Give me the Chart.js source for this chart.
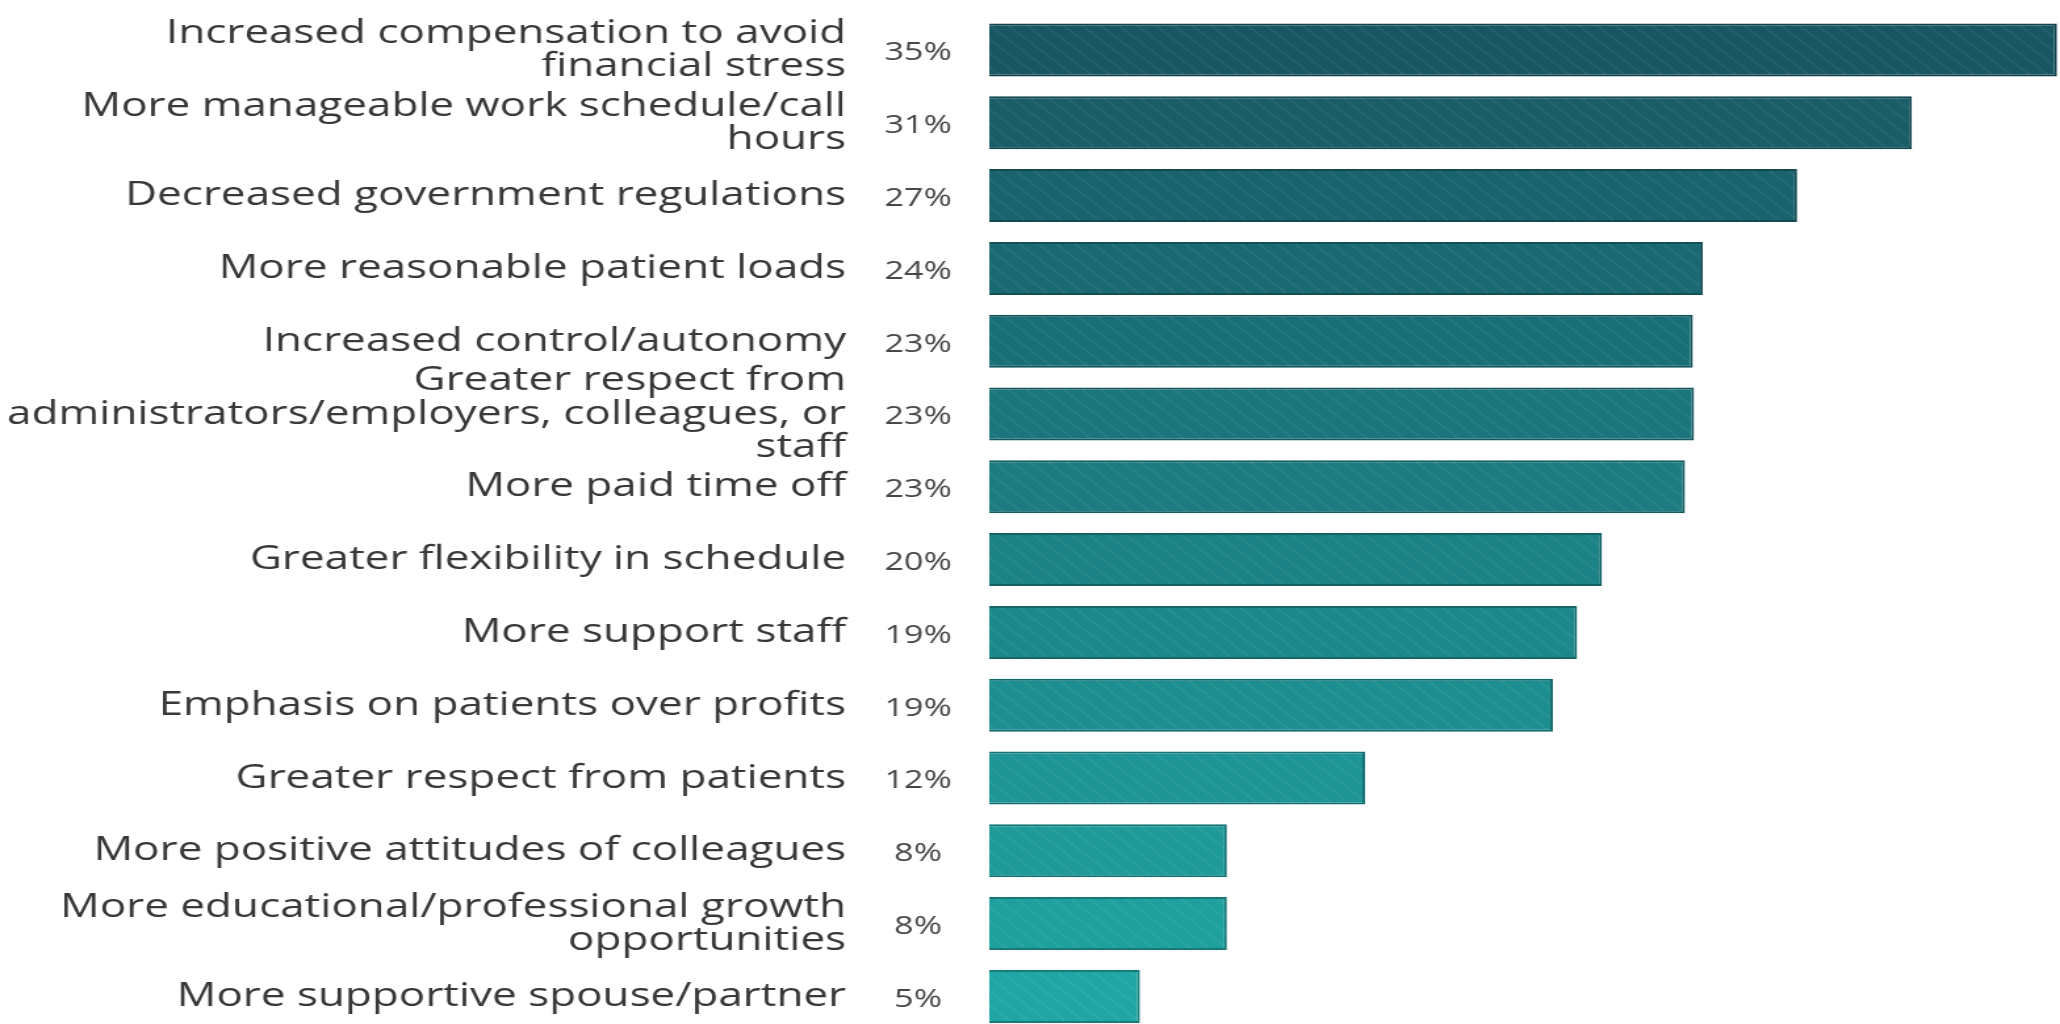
<!DOCTYPE html>
<html>
<head>
<meta charset="utf-8">
<title>Changes that would reduce burnout</title>
<script src="https://cdn.jsdelivr.net/npm/chart.js@4/dist/chart.umd.min.js"></script>
<style>
  html, body { margin: 0; padding: 0; background: #fff; overflow: hidden; }
  /* the source picture is stretched sideways, so the canvas is too */
  #wrap { width: 1568px; height: 1040px; transform: scaleX(1.3138); transform-origin: 0 0; }
</style>
</head>
<body>
<div id="wrap"><canvas id="chart" width="1568" height="1040"></canvas></div>
<script>
// --- data ---
const categories = [
  ['Increased compensation to avoid', 'financial stress'],
  ['More manageable work schedule/call', 'hours'],
  'Decreased government regulations',
  'More reasonable patient loads',
  'Increased control/autonomy',
  ['Greater respect from', 'administrators/employers, colleagues, or', 'staff'],
  'More paid time off',
  'Greater flexibility in schedule',
  'More support staff',
  'Emphasis on patients over profits',
  'Greater respect from patients',
  'More positive attitudes of colleagues',
  ['More educational/professional growth', 'opportunities'],
  'More supportive spouse/partner'
];
// bar lengths (percent), as measured
const values = [35.25, 30.46, 26.67, 23.56, 23.23, 23.27, 22.97, 20.23, 19.41, 18.61, 12.41, 7.85, 7.85, 4.98];
// printed labels
const valueLabels = ['35%', '31%', '27%', '24%', '23%', '23%', '23%', '20%', '19%', '19%', '12%', '8%', '8%', '5%'];

// --- styles ---
const darkTeal = [23, 87, 99];
const lightTeal = [31, 166, 164];

function mix(t, k) {
  return darkTeal.map((c, j) => Math.round((c + (lightTeal[j] - c) * t) * k));
}

// faint diagonal hatch like the original bars
function barPattern(rgb) {
  const c = document.createElement('canvas');
  c.width = 14; c.height = 14;
  const g = c.getContext('2d');
  g.fillStyle = `rgb(${rgb.join(',')})`;
  g.fillRect(0, 0, 14, 14);
  g.strokeStyle = 'rgba(255,255,255,0.06)';
  g.lineWidth = 2;
  g.beginPath();
  g.moveTo(-2, -2); g.lineTo(16, 16);
  g.moveTo(-9, 5); g.lineTo(9, 23);
  g.moveTo(5, -9); g.lineTo(23, 9);
  g.stroke();
  return g.createPattern(c, 'repeat');
}

const fills = values.map((v, i) => barPattern(mix(i / (values.length - 1), 1)));
const borders = values.map((v, i) => `rgb(${mix(i / (values.length - 1), 0.75).join(',')})`);

// percent labels sit in a column between the names and the bars
const pctLabels = {
  id: 'pctLabels',
  afterDatasetsDraw(chart) {
    const ctx = chart.ctx;
    const meta = chart.getDatasetMeta(0);
    ctx.save();
    ctx.font = '26px "Open Sans"';
    ctx.fillStyle = '#474747';
    ctx.textAlign = 'center';
    ctx.textBaseline = 'middle';
    meta.data.forEach((bar, i) => {
      ctx.fillText(valueLabels[i], chart.chartArea.left - 54, bar.y + 3);
    });
    ctx.restore();
  }
};

new Chart(document.getElementById('chart'), {
  type: 'bar',
  data: {
    labels: categories,
    datasets: [{
      data: values,
      backgroundColor: fills,
      borderColor: borders,
      borderWidth: 2,
      borderSkipped: 'start',
      categoryPercentage: 1,
      barPercentage: 0.728
    }]
  },
  options: {
    indexAxis: 'y',
    responsive: false,
    animation: false,
    layout: { padding: { top: 13.6, bottom: 7.2, left: 0, right: 0 } },
    plugins: { legend: { display: false }, tooltip: { enabled: false } },
    scales: {
      x: {
        display: false,
        min: 0,
        max: 35.35
      },
      y: {
        grid: { display: false, drawTicks: false },
        border: { display: false },
        ticks: {
          autoSkip: false,
          padding: 108.8,
          color: '#383838',
          font: { family: '"Open Sans"', size: 33.5, lineHeight: 0.99 }
        },
        afterFit(scale) {
          // keep the label column width and stop the tick padding eating vertical room
          scale.width = 752.8;
          scale.paddingTop = 0;
          scale.paddingBottom = 0;
        }
      }
    }
  },
  plugins: [pctLabels]
});
</script>
</body>
</html>
